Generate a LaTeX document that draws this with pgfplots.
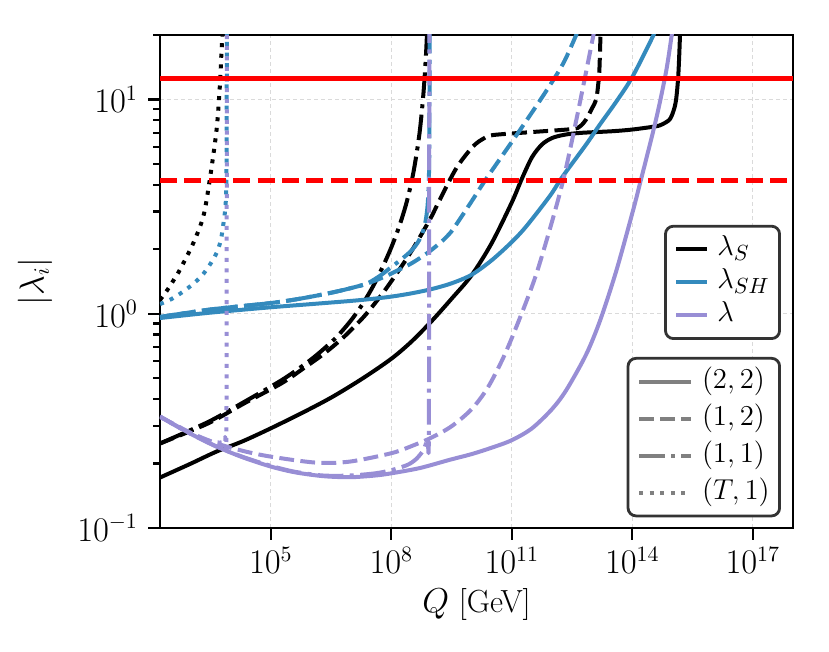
\documentclass[border=0pt]{standalone}
\usepackage{pgfplots}
\pgfplotsset{compat=1.18}
\definecolor{cSH}{HTML}{348ABD}
\definecolor{cL}{HTML}{988ED5}
\definecolor{cgrid}{HTML}{DADADA}
\definecolor{legframe}{HTML}{333333}
\definecolor{leggrey}{HTML}{808080}
\tikzset{
 lw/.style={line width=2pt, line join=round},
 sty22/.style={lw},
 sty12/.style={lw, dash pattern=on 7.4pt off 3.2pt},
 sty11/.style={lw, dash pattern=on 12.8pt off 3.2pt on 2pt off 3.2pt},
 styT1/.style={lw, dash pattern=on 2pt off 3.3pt},
}
\begin{document}
\begin{tikzpicture}
\begin{axis}[width=316.5pt, height=246.5pt, scale only axis,
 xmode=log, ymode=log, xmin=174, xmax=1e18, ymin=0.1, ymax=20,
 xtick={1e5,1e8,1e11,1e14,1e17},
 ytick={0.1,1,10},
 minor ytick={0.2,0.3,0.4,0.5,0.6,0.7,0.8,0.9,2,3,4,5,6,7,8,9,20},
 xminorticks=false,
 tick align=outside, tick pos=left,
 major tick length=6pt, minor tick length=3.5pt,
 tick style={black, line width=1.1pt},
 axis line style={line width=1.3pt},
 grid=major, major grid style={dash pattern=on 2pt off 1.5pt, line width=0.5pt, draw=cgrid},
 tick label style={font=\fontsize{16}{18}\selectfont},
 yticklabel style={xshift=-1.5pt},
 label style={font=\fontsize{16}{18}\selectfont},
 xlabel={$Q$ [GeV]}, ylabel={$|\lambda_i|$},
 xlabel style={at={(axis description cs:0.5,-0.156)}, anchor=center},
 ylabel style={at={(axis description cs:-0.1975,0.5)}, anchor=center},
 legend style={at={(0.981,0.615)}, anchor=north east, draw=legframe, line width=1.4pt,
   rounded corners=4pt, fill=white, font=\fontsize{15}{17}\selectfont,
   inner xsep=4.5pt, inner ysep=4.6pt, row sep=2.5pt,
   nodes={inner sep=0.5pt, text height=9.5pt, text depth=3.5pt}},
 legend image code/.code={\draw[#1] (0pt,0pt) -- (15.5pt,0pt); \path (19pt,0pt);},
 legend cell align=left,
 every axis plot/.append style={smooth, tension=0.5},
]
% lambda_S (black)
\addplot[forget plot, black, sty22] coordinates {(174,0.172) (1e3,0.1995) (4.467e3,0.2275) (1.995e4,0.254) (1e5,0.292) (7.079e5,0.350) (3.548e6,0.411) (1.995e7,0.501) (1e8,0.6166) (3.162e8,0.741) (1e9,0.9226) (3.162e9,1.175) (1e10,1.514) (3.162e10,2.138) (1e11,3.311) (1.738e11,4.227) (3.162e11,5.37) (5.623e11,6.166) (1e12,6.607) (1.995e12,6.839) (4.898e12,6.98) (3.162e13,7.11) (1.023e14,7.244) (3.89e14,7.50) (5.623e14,7.67) (8.511e14,8.07) (1.072e15,8.91) (1.23e15,10.0) (1.38e15,12.59) (1.479e15,16.5) (1.549e15,20.9)};
\addplot[forget plot, black, sty12] coordinates {(174,0.248) (2.754e3,0.308) (2.239e4,0.383) (1.862e5,0.474) (7.079e5,0.5623) (1.995e6,0.6457) (5.248e6,0.7499) (1e7,0.8414) (2.399e7,1.0) (7.586e7,1.318) (2.884e8,1.905) (9.12e8,2.754) (1.585e9,3.388) (4.169e9,4.786) (1.072e10,6.026) (1.995e10,6.577) (3.388e10,6.823) (3.162e11,7.047) (3.162e12,7.278) (5.012e12,7.50) (7.079e12,8.07) (1e13,9.12) (1.259e13,10.0) (1.413e13,11.75) (1.514e13,13.8) (1.622e13,20.9)};
\addplot[forget plot, black, sty11] coordinates {(174,0.248) (2.754e3,0.3126) (2.239e4,0.389) (1.862e5,0.490) (7.079e5,0.582) (1.66e6,0.6607) (4.266e6,0.7762) (1e7,0.9333) (1.995e7,1.122) (3.548e7,1.349) (6.31e7,1.679) (1e8,2.042) (1.585e8,2.570) (2.399e8,3.311) (3.548e8,4.571) (5.012e8,6.918) (6.31e8,10.72) (7.244e8,15.85) (7.762e8,20.9)};
\addplot[forget plot, black, styT1] coordinates {(174,1.16) (2.63e2,1.288) (3.89e2,1.445) (5.623e2,1.622) (1.175e3,2.138) (2.089e3,2.851) (3.02e3,4.227) (4.467e3,7.244) (5.37e3,11.53) (5.888e3,16.5) (6.31e3,20.9)};
% lambda_SH (blue)
\addplot[forget plot, cSH, sty22] coordinates {(174,0.955) (3.162e3,1.012) (1e5,1.072) (1e6,1.109) (1e7,1.148) (3.162e7,1.172) (1e8,1.202) (3.162e8,1.245) (1e9,1.303) (3.162e9,1.387) (1e10,1.521) (3.162e10,1.778) (1e11,2.163) (2.291e11,2.559) (8.71e11,3.532) (1.862e12,4.385) (7.079e12,6.166) (1.514e13,7.586) (3.981e13,9.772) (1e14,12.74) (3.162e14,19.5) (3.548e14,20.9)};
\addplot[forget plot, cSH, sty12] coordinates {(174,0.966) (3.162e3,1.047) (1e5,1.122) (5.248e5,1.175) (3.162e6,1.253) (1e7,1.318) (2.399e7,1.380) (6.31e7,1.479) (1.349e8,1.585) (3.162e8,1.718) (7.413e8,1.905) (1.259e9,2.056) (1.995e9,2.213) (3.162e9,2.427) (5.012e9,2.754) (1e10,3.350) (2.344e10,4.285) (1.288e11,6.792) (5.888e11,10.35) (1.862e12,14.62) (3.981e12,19.95) (4.467e12,20.9)};
\addplot[forget plot, cSH, sty11] coordinates {(174,0.966) (3.162e3,1.047) (1e5,1.122) (5.248e5,1.175) (3.162e6,1.253) (1e7,1.318) (2.399e7,1.380) (5.012e7,1.496) (9.12e7,1.629) (1.95e8,1.820) (3.162e8,1.972) (4.467e8,2.138) (5.888e8,2.371) (7.079e8,2.692) (7.943e8,3.162) (8.511e8,3.981) (8.81e8,5.623) (8.913e8,10) (8.954e8,20.9)};
\addplot[forget plot, cSH, styT1] coordinates {(174,1.109) (3.388e2,1.172) (6.607e2,1.27) (1.23e3,1.39) (2.089e3,1.535) (3.236e3,1.726) (4.467e3,1.923) (5.623e3,2.188) (6.457e3,2.559) (7.413e3,3.17) (7.852e3,4.467) (8.035e3,20.9)};
% lambda (purple)
\addplot[forget plot, cL, sty22] coordinates {(174,0.331) (1e3,0.2754) (4.467e3,0.2399) (1.995e4,0.2138) (1e5,0.1936) (3.981e5,0.182) (1.995e6,0.1746) (9.333e6,0.1726) (3.981e7,0.1758) (1e8,0.180) (5.129e8,0.1905) (2.818e9,0.208) (1e10,0.2213) (3.162e10,0.2371) (1e11,0.257) (3.162e11,0.2917) (1e12,0.3589) (2.291e12,0.4416) (7.079e12,0.6457) (1.585e13,0.9333) (3.981e13,1.585) (1e14,2.951) (1.585e14,4.121) (3.89e14,8.07) (6.918e14,13.49) (9.55e14,19.95) (1e15,20.9)};
\addplot[forget plot, cL, sty12] coordinates {(174,0.331) (1e3,0.2786) (4.467e3,0.2483) (1.995e4,0.2291) (1e5,0.2153) (1.38e6,0.2018) (9.333e6,0.2042) (1e8,0.2234) (3.162e8,0.241) (1e9,0.2642) (3.162e9,0.2985) (1e10,0.3589) (2.512e10,0.4519) (6.31e10,0.631) (1.585e11,0.955) (3.981e11,1.514) (1e12,2.692) (1.995e12,4.365) (3.981e12,7.943) (7.079e12,13.49) (1.072e13,19.95) (1.122e13,20.9)};
\addplot[forget plot, cL, sty11] coordinates {(174,0.331) (1e3,0.2754) (4.467e3,0.2399) (1.995e4,0.2148) (1e5,0.195) (3.981e5,0.183) (1.995e6,0.1758) (9.333e6,0.1758) (3.981e7,0.180) (1e8,0.1862) (2.512e8,0.197) (4.169e8,0.21) (6.31e8,0.2317) (7.943e8,0.263) (8.61e8,0.302) (8.81e8,20.9)};
\addplot[forget plot, cL, styT1] coordinates {(174,0.331) (1e3,0.2754) (3.162e3,0.254) (6.026e3,0.2512) (7.244e3,0.266) (7.852e3,0.316) (8.035e3,20.9)};
% perturbativity limits
\addplot[forget plot, red, line width=2.3pt, sharp plot] coordinates {(174,12.566) (1e18,12.566)};
\addplot[forget plot, red, line width=2.3pt, sharp plot, dash pattern=on 8.5pt off 3.7pt] coordinates {(174,4.189) (1e18,4.189)};
\addlegendimage{black, sty22}
\addlegendentry{$\lambda_S$}
\addlegendimage{cSH, sty22}
\addlegendentry{$\lambda_{SH}$}
\addlegendimage{cL, sty22}
\addlegendentry{$\lambda$}
\end{axis}
\begin{axis}[width=316.5pt, height=246.5pt, scale only axis,
 xmode=log, ymode=log, xmin=174, xmax=1e18, ymin=0.1, ymax=20, hide axis,
 legend style={at={(0.981,0.347)}, anchor=north east, draw=legframe, line width=1.4pt,
   rounded corners=4pt, fill=white, font=\fontsize{15}{17}\selectfont,
   inner xsep=4.5pt, inner ysep=3.9pt, row sep=3pt,
   nodes={inner sep=0.5pt, text height=10.5pt, text depth=4pt}},
 legend image code/.code={\draw[#1] (0pt,0pt) -- (26pt,0pt); \path (30pt,0pt);},
 legend cell align=left,
]
\addlegendimage{leggrey, sty22}
\addlegendentry{$(2,2)$}
\addlegendimage{leggrey, sty12}
\addlegendentry{$(1,2)$}
\addlegendimage{leggrey, sty11}
\addlegendentry{$(1,1)$}
\addlegendimage{leggrey, styT1}
\addlegendentry{$(T,1)$}
\end{axis}
\pgfresetboundingbox
\path[use as bounding box] (-80pt,-62pt) rectangle (334.5pt,264pt);
\end{tikzpicture}
\end{document}
